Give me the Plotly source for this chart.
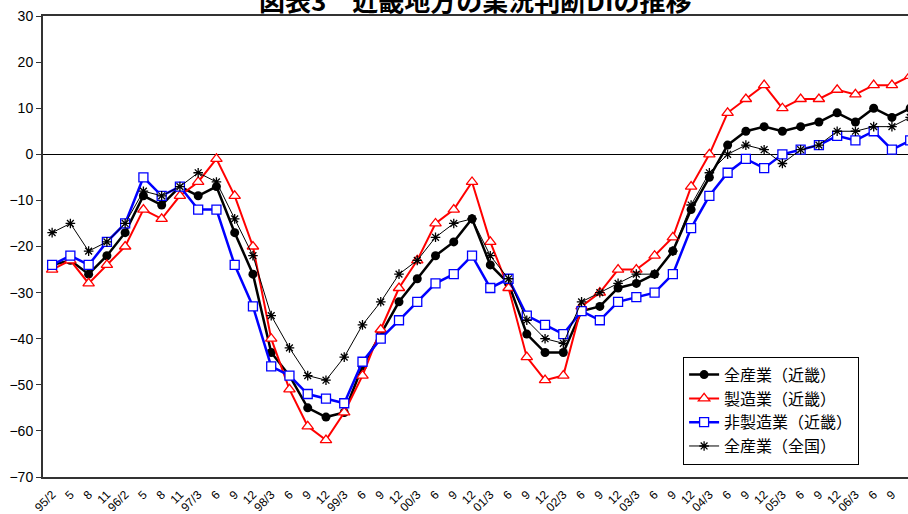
import plotly.graph_objects as go

tick_labels = ["95/2", "5", "8", "11", "96/2", "5", "8", "11",
               "97/3", "6", "9", "12", "98/3", "6", "9", "12",
               "99/3", "6", "9", "12", "00/3", "6", "9", "12",
               "01/3", "6", "9", "12", "02/3", "6", "9", "12",
               "03/3", "6", "9", "12", "04/3", "6", "9", "12",
               "05/3", "6", "9", "12", "06/3", "6", "9", "12"]

kinki_all = [-24, -23, -26, -22, -17, -9, -11, -7, -9, -7, -17, -26,
             -43, -48, -55, -57, -56, -46, -39, -32, -27, -22, -19, -14,
             -24, -28, -39, -43, -43, -34, -33, -29, -28, -26, -21, -12,
             -5, 2, 5, 6, 5, 6, 7, 9, 7, 10, 8, 10]
kinki_mfg = [-25, -23, -28, -24, -20, -12, -14, -9, -6, -1, -9, -20,
             -40, -51, -59, -62, -56, -48, -38, -29, -23, -15, -12, -6,
             -19, -29, -44, -49, -48, -33, -30, -25, -25, -22, -18, -7,
             0, 9, 12, 15, 10, 12, 12, 14, 13, 15, 15, 17]
kinki_nonmfg = [-24, -22, -24, -19, -15, -5, -9, -7, -12, -12, -24, -33,
                -46, -48, -52, -53, -54, -45, -40, -36, -32, -28, -26, -22,
                -29, -27, -35, -37, -39, -34, -36, -32, -31, -30, -26, -16,
                -9, -4, -1, -3, 0, 1, 2, 4, 3, 5, 1, 3]
national_all = [-17, -15, -21, -19, -15, -8, -9, -7, -4, -6, -14, -22,
                -35, -42, -48, -49, -44, -37, -32, -26, -23, -18, -15, -14,
                -22, -27, -36, -40, -41, -32, -30, -28, -26, -26, -21, -11,
                -4, 0, 2, 1, -2, 1, 2, 5, 5, 6, 6, 8]

x = list(range(len(tick_labels)))

fig = go.Figure()
fig.add_trace(go.Scatter(
    x=x, y=kinki_all, name="全産業（近畿）", mode="lines+markers",
    line=dict(color="black", width=2.5),
    marker=dict(symbol="circle", size=9, color="black")))
fig.add_trace(go.Scatter(
    x=x, y=kinki_mfg, name="製造業（近畿）", mode="lines+markers",
    line=dict(color="#ff0000", width=2),
    marker=dict(symbol="triangle-up", size=10, color="white",
                line=dict(color="#ff0000", width=1.3))))
fig.add_trace(go.Scatter(
    x=x, y=kinki_nonmfg, name="非製造業（近畿）", mode="lines+markers",
    line=dict(color="#0000ff", width=2.5),
    marker=dict(symbol="square", size=9, color="white",
                line=dict(color="#0000ff", width=1.3))))
fig.add_trace(go.Scatter(
    x=x, y=national_all, name="全産業（全国）", mode="lines+markers",
    line=dict(color="black", width=1),
    marker=dict(symbol="asterisk-open", size=8, color="black",
                line=dict(color="black", width=1.3))))

fig.update_layout(
    width=908, height=514,
    margin=dict(l=43, r=0, t=16, b=37),
    paper_bgcolor="white", plot_bgcolor="white",
    font=dict(family="Liberation Sans, Arial, sans-serif", color="black"),
    showlegend=True,
    legend=dict(
        x=0.74, y=0.261, xanchor="left", yanchor="top",
        bgcolor="white", bordercolor="black", borderwidth=1,
        font=dict(family="Noto Sans CJK JP", size=16, color="black"),
        itemwidth=30, tracegroupgap=0),
    annotations=[dict(
        text="<b>図表3　近畿地方の業況判断DIの推移</b>",
        xref="paper", yref="paper", x=0.5, y=1.0, yshift=-4,
        xanchor="center", yanchor="bottom", showarrow=False,
        font=dict(family="Noto Sans CJK JP", size=26, color="black"))],
)

fig.update_xaxes(
    range=[-0.5, 46.88], automargin=False,
    tickmode="array", tickvals=x, ticktext=tick_labels,
    tickangle=-45, tickfont=dict(size=12, family="Liberation Sans"),
    ticklabelstandoff=4,
    showgrid=False, zeroline=False,
    showline=True, linecolor="#333333", linewidth=2, mirror=True,
    ticks="")
fig.update_yaxes(
    range=[-70, 30], tickmode="linear", tick0=-70, dtick=10, automargin=False,
    tickfont=dict(size=14, family="Liberation Sans"),
    showgrid=False, zeroline=True, zerolinecolor="black", zerolinewidth=1,
    showline=True, linecolor="#333333", linewidth=2, mirror=True,
    ticks="outside", ticklen=5, tickcolor="#333333")

fig.write_html(
    "out.html",
    config={"displayModeBar": False},
    post_script="document.body.style.margin='0';document.body.style.overflow='hidden';")
